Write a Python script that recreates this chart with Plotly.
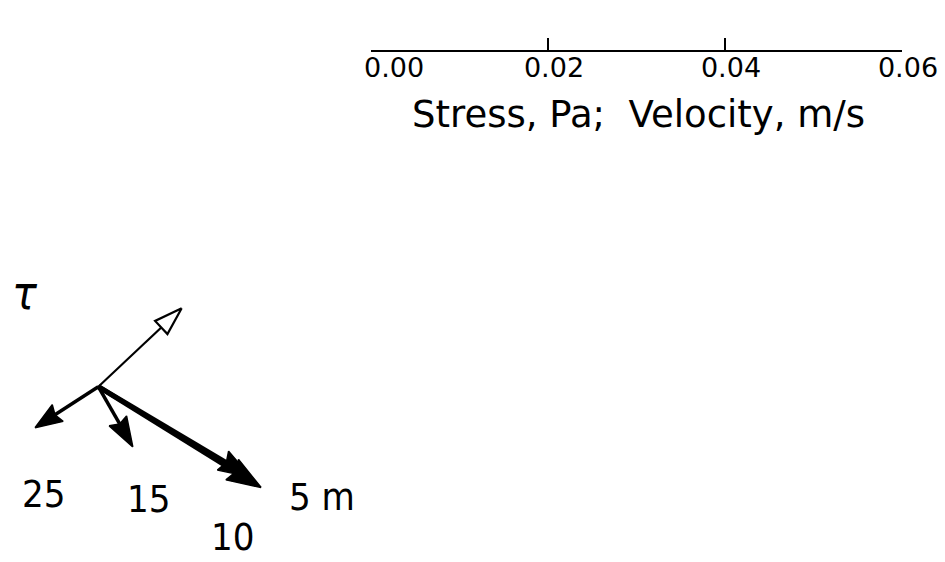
import plotly.graph_objects as go

# Current profile: near-bed stress vector and velocity vectors at several heights above bed
depth_labels = ["25", "15", "10", "5 m"]
vel_east = [-0.00715, 0.0039, 0.0172, 0.0184]     # m/s
vel_north = [-0.00463, -0.0068, -0.0102, -0.0114]  # m/s
stress_east = 0.00942   # Pa
stress_north = 0.00886  # Pa
stress_label = "τ"

scale_ticks = [0.00, 0.02, 0.04, 0.06]
scale_ticktext = ["\u00a0\u00a0\u00a0\u00a00.00", "0.02", "0.04", "0.06"]
scale_title = "Stress, Pa;\u00a0\u00a0Velocity, m/s"

W, H = 945, 562
PX = 8850.0                 # pixels per unit on the vector plot
ORIGIN_PX = (98.3, 386.7)   # where the vectors start on the canvas
FONT = "DejaVu Sans Condensed, DejaVu Sans, sans-serif"
FONT_WIDE = "DejaVu Sans, sans-serif"
SCALE_DOMAIN = [371 / W, 902 / W]

# per-arrow drawing style: shaft width (px), head length (px), head half width (px)
vel_styles = [(3.5, 27, 10), (3.5, 30, 10), (5.0, 32, 11), (5.0, 34, 12)]


def head_points(u, v, length_px, half_px, notch=0.8):
    """Barbed arrow head polygon in data units for a vector (u, v) from the origin."""
    mag = (u * u + v * v) ** 0.5
    ux, uy = u / mag, v / mag
    px_, py_ = -uy, ux
    L, hw = length_px / PX, half_px / PX
    bx, by = u - ux * L, v - uy * L
    nx, ny = u - ux * L * notch, v - uy * L * notch
    xs = [u, bx + px_ * hw, nx, bx - px_ * hw, u]
    ys = [v, by + py_ * hw, ny, by - py_ * hw, v]
    return xs, ys, (nx, ny)


fig = go.Figure()

# stress vector: thin shaft with an open head
sx, sy, sbase = head_points(stress_east, stress_north, 28, 9, notch=1.0)
fig.add_trace(go.Scatter(x=[0, sbase[0]], y=[0, sbase[1]], mode="lines",
                         line=dict(color="black", width=2.2), hoverinfo="skip"))
fig.add_trace(go.Scatter(x=sx, y=sy, mode="lines", fill="toself", fillcolor="white",
                         line=dict(color="black", width=2.2), hoverinfo="skip"))

# velocity vectors: filled barbed heads
for u, v, (lw, hl, hw) in zip(vel_east, vel_north, vel_styles):
    hx, hy, base = head_points(u, v, hl, hw, notch=0.88)
    fig.add_trace(go.Scatter(x=[0, base[0]], y=[0, base[1]], mode="lines",
                             line=dict(color="black", width=lw), hoverinfo="skip"))
    fig.add_trace(go.Scatter(x=hx, y=hy, mode="lines", fill="toself", fillcolor="black",
                             line=dict(color="black", width=1.5), hoverinfo="skip"))


def to_data(px, py):
    return (px - ORIGIN_PX[0]) / PX, (ORIGIN_PX[1] - py) / PX


label_px = [(44, 494), (149, 499), (233, 537), (322, 497)]
for text, (lx, ly) in zip(depth_labels, label_px):
    x, y = to_data(lx, ly)
    fig.add_annotation(x=x, y=y, text=text, showarrow=False, xref="x", yref="y",
                       font=dict(family=FONT, size=38, color="black"))

tx, ty = to_data(25, 293)
fig.add_annotation(x=tx, y=ty, text="<i>" + stress_label + "</i>", showarrow=False,
                   xref="x", yref="y",
                   font=dict(family=FONT, size=46, color="black"))

# scale bar axis for stress and velocity
fig.add_trace(go.Scatter(x=scale_ticks, y=[0] * len(scale_ticks), xaxis="x2", yaxis="y2",
                         mode="markers", marker=dict(opacity=0), hoverinfo="skip"))

# scale bar caption
fig.add_annotation(x=sum(SCALE_DOMAIN) / 2 + 2 / W, y=1 - 114 / H, xref="paper", yref="paper",
                   text=scale_title, showarrow=False, xanchor="center", yanchor="middle",
                   font=dict(family=FONT_WIDE, size=37, color="black"))

fig.update_layout(
    width=W, height=H,
    margin=dict(l=0, r=0, t=0, b=0, autoexpand=False),
    paper_bgcolor="white", plot_bgcolor="white",
    showlegend=False,
    xaxis=dict(range=[-ORIGIN_PX[0] / PX, (W - ORIGIN_PX[0]) / PX], visible=False,
               domain=[0, 1], fixedrange=True, automargin=False),
    yaxis=dict(range=[-(H - ORIGIN_PX[1]) / PX, ORIGIN_PX[1] / PX], visible=False,
               domain=[0, 1], fixedrange=True, automargin=False),
    xaxis2=dict(domain=SCALE_DOMAIN, anchor="y2", range=[0, 0.06], automargin=False,
                showline=True, linecolor="black", linewidth=2, showgrid=False, zeroline=False,
                ticks="inside", ticklen=12, tickwidth=2, tickcolor="black",
                tickvals=scale_ticks, ticktext=scale_ticktext, ticklabelstandoff=-7,
                ticklabelshift=6,
                tickfont=dict(family=FONT_WIDE, size=27, color="black")),
    yaxis2=dict(domain=[1 - 50 / H, 1 - 30 / H], anchor="x2", visible=False, range=[0, 1],
                automargin=False),
)

fig.write_html("out.html")
